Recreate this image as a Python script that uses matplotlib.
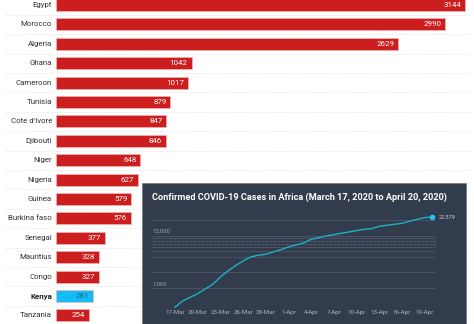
import matplotlib.pyplot as plt
from matplotlib.patches import Rectangle
from matplotlib.ticker import FixedLocator, NullFormatter, NullLocator

plt.rcParams['font.family'] = ['Roboto', 'DejaVu Sans']

# Confirmed cases by country
countries = ['Egypt', 'Morocco', 'Algeria', 'Ghana', 'Cameroon', 'Tunisia',
             "Cote d'Ivore", 'Djibouti', 'Niger', 'Nigeria', 'Guinea',
             'Burkina faso', 'Senegal', 'Mauritius', 'Congo', 'Kenya', 'Tanzania']
cases = [3144, 2990, 2629, 1042, 1017, 879, 847, 846, 648, 627, 579,
         576, 377, 328, 327, 281, 254]
highlight = 'Kenya'

# Cumulative cases in Africa, 17 March to 20 April 2020
day_labels = ['17-Mar', '20-Mar', '23-Mar', '26-Mar', '29-Mar', '1-Apr',
              '4-Apr', '7-Apr', '10-Apr', '13-Apr', '16-Apr', '19-Apr']
africa_total = [436, 575, 675, 792, 971, 1191, 1641, 2133, 2694, 3304,
                3936, 4234, 4424, 4898, 5423, 6095, 6650, 7260, 8520, 9160,
                9860, 10450, 11070, 11740, 12450, 13190, 13590, 15040, 15710,
                16410, 17150, 18720, 20420, 21980, 22579]

W, H = 474, 324
fig = plt.figure(figsize=(W / 100, H / 100), dpi=100)
fig.patch.set_facecolor('white')


def box(x0, y0, x1, y1):
    # pixel box (top-left origin) -> figure fraction rect
    return [x0 / W, 1 - y1 / H, (x1 - x0) / W, (y1 - y0) / H]


# ---- bar chart ----
ax = fig.add_axes(box(5, 0, 470, 324))
ax.set_xlim(-392, 3182)
ax.set_ylim(16.44, -0.258)
ax.axis('off')

rows = list(range(len(countries)))
for i in rows[:-1]:
    ax.axhline(i + 0.5, color='#e4e4e4', lw=0.6, ls=(0, (1, 1)), zorder=0)

red, blue = '#cc1e1f', '#12bdf6'
colors = [blue if c == highlight else red for c in countries]
ax.barh(rows, cases, height=0.62, color=colors, edgecolor='#f3b3b3',
        linewidth=0.5, zorder=2)

for i, (name, val) in enumerate(zip(countries, cases)):
    is_hl = name == highlight
    ax.text(-31, i, name, ha='right', va='center', fontsize=5.7,
            color='#222222' if is_hl else '#333333',
            fontweight='bold' if is_hl else 'normal')
    ax.text(val - 30, i, str(val), ha='right', va='center', fontsize=5.7,
            color='#1d6a7a' if is_hl else 'white', zorder=3)

# ---- inset panel ----
panel = Rectangle((142 / W, 0), (466 - 142) / W, (324 - 183) / H,
                  transform=fig.transFigure, facecolor='#323c4c',
                  edgecolor='#6f7782', linewidth=0.5, zorder=5)
fig.patches.append(panel)
fig.text(152 / W, 1 - 197 / H,
         'Confirmed COVID-19 Cases in Africa (March 17, 2020 to April 20, 2020)',
         color='white', fontsize=6.6, fontweight='bold', va='center', zorder=6)

lax = fig.add_axes(box(152, 210.5, 436, 307.6))
lax.set_zorder(6)
lax.patch.set_alpha(0)
days = list(range(len(africa_total)))
lax.set_yscale('log')
lax.set_xlim(-3.04, 34.5)
lax.set_ylim(430, 30000)
for s in lax.spines.values():
    s.set_visible(False)

grid_vals = [1000, 2000, 4000, 5000, 6000, 7000, 8000, 9000, 10000, 20000]
for v in grid_vals:
    lax.axhline(v, color='#5f6878', lw=0.6, ls=(0, (1, 0.6)), zorder=1)
lax.yaxis.set_major_locator(NullLocator())
lax.yaxis.set_minor_locator(NullLocator())
lax.yaxis.set_minor_formatter(NullFormatter())
for v, lbl in [(1000, '1,000'), (10000, '10,000')]:
    lax.text(-3.0, v * 1.1, lbl, color='#9aa1ab', fontsize=4.3,
             ha='left', va='bottom')

lax.plot(days, africa_total, color='#1ab3c4', lw=1.0, zorder=3)
lax.plot(days[-1], africa_total[-1], 'o', color='#1ec8f2', ms=3, zorder=4)
lax.text(days[-1] + 0.8, africa_total[-1], f'{africa_total[-1]:,}',
         color='#c9ced5', fontsize=4, va='center', ha='left')

lax.xaxis.set_major_locator(FixedLocator(range(0, 35, 3)))
lax.set_xticklabels(day_labels)
lax.tick_params(axis='x', length=0, pad=2, labelsize=4.5, labelcolor='#aab0b9')

fig.savefig('out.png', dpi=100, facecolor='white')
